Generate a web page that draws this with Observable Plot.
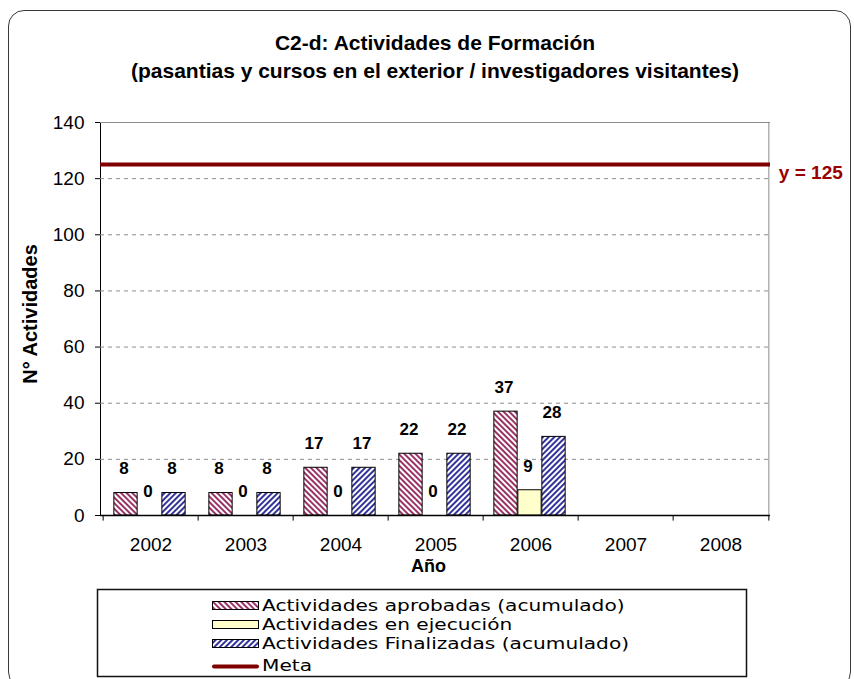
<!DOCTYPE html>
<html><head><meta charset="utf-8">
<script src="https://cdn.jsdelivr.net/npm/d3@7"></script>
<script src="https://cdn.jsdelivr.net/npm/@observablehq/plot@0.6"></script>
<style>
body{margin:0;background:#fff;}
#wrap{position:relative;width:854px;height:679px;overflow:hidden;background:#fff;font-family:"Liberation Sans",Arial,sans-serif;}
#frame{position:absolute;left:8px;top:10px;width:843px;height:678px;border:1.5px solid #3a3a3a;border-radius:16px;box-sizing:border-box;}
#title{position:absolute;left:35px;top:29px;width:800px;text-align:center;font-weight:bold;font-size:21px;line-height:28px;color:#000;}
#chart{position:absolute;left:0;top:0;}
#legend{position:absolute;left:0;top:0;}
</style></head>
<body><div id="wrap">
<div id="frame"></div>
<div id="title">C2-d: Actividades de Formación<br>(pasantias y cursos en el exterior / investigadores visitantes)</div>
<div id="chart"></div>
<svg id="legend" width="854" height="679"></svg>
</div>
<script>
// ---- data ----
const years = ["2002","2003","2004","2005","2006","2007","2008"];
const aprobadas = [8, 8, 17, 22, 37, null, null];
const ejecucion = [0, 0, 0, 0, 9, null, null];
const finalizadas = [8, 8, 17, 22, 28, null, null];
const meta = 125;
const yTicks = [0, 20, 40, 60, 80, 100, 120, 140];
const gridTicks = [20, 40, 60, 80, 100, 120];
const seriesNames = ["Actividades aprobadas (acumulado)", "Actividades en ejecución", "Actividades Finalizadas (acumulado)"];
const metaName = "Meta";
const yLabel = "N° Actividades";
const xLabel = "Año";

// ---- layout ----
const W = 854, H = 590, mL = 100, mR = 84, mT = 122, mB = 75;
const bw = (W - mL - mR) / years.length;
const c = bw / 2;
const barW = 24;
const offs = {a: -25, e: -1, f: 23};
const inset = k => ({insetLeft: c + offs[k] - barW / 2, insetRight: bw - (c + offs[k] + barW / 2)});

const rows = years.map((y, i) => ({year: y, a: aprobadas[i], e: ejecucion[i], f: finalizadas[i]}));
const rowsA = rows.filter(d => d.a != null);
const rowsE = rows.filter(d => d.e != null);
const rowsF = rows.filter(d => d.f != null);

const labelStyle = {fontWeight: "bold", fontSize: 17, dy: -24, fill: "#000"};

const chart = Plot.plot({
  width: W, height: H,
  marginLeft: mL, marginRight: mR, marginTop: mT, marginBottom: mB,
  style: {fontFamily: "'Liberation Sans', Arial, sans-serif", fontSize: "19px", background: "transparent", color: "#000", overflow: "visible"},
  x: {domain: years, padding: 0, tickSize: 0, tickPadding: 22, label: null},
  y: {domain: [0, 140], ticks: yTicks, tickSize: 5, tickPadding: 11, label: null, line: true},
  marks: [
    Plot.ruleY(gridTicks, {stroke: "#8c8c8c", strokeDasharray: "4,4", strokeWidth: 1}),
    Plot.ruleY([140], {stroke: "#8c8c8c"}),
    Plot.ruleX([years[years.length - 1]], {dx: c, stroke: "#8c8c8c"}),
    Plot.barY(rowsA, {x: "year", y: "a", fill: "url(#hatchA)", stroke: "#000", strokeWidth: 1, ...inset("a")}),
    Plot.barY(rowsE.filter(d => d.e > 0), {x: "year", y: "e", fill: "#ffffcc", stroke: "#000", strokeWidth: 1, ...inset("e")}),
    Plot.barY(rowsF, {x: "year", y: "f", fill: "url(#hatchF)", stroke: "#000", strokeWidth: 1, ...inset("f")}),
    Plot.text(rowsA, {x: "year", y: "a", text: d => String(d.a), dx: -27, ...labelStyle}),
    Plot.text(rowsE, {x: "year", y: "e", text: d => String(d.e), dx: -3, ...labelStyle}),
    Plot.text(rowsF, {x: "year", y: "f", text: d => String(d.f), dx: 21, ...labelStyle}),
    Plot.ruleY([0], {stroke: "#000", strokeWidth: 1.5}),
    Plot.ruleX(years, {x: d => d, y1: 0, y2: -2, dx: -c, stroke: "#000"}),
    Plot.ruleX([years[years.length - 1]], {y1: 0, y2: -2, dx: c, stroke: "#000"}),
    Plot.ruleY([meta], {stroke: "#800000", strokeWidth: 4}),
    Plot.text([meta], {x: () => years[years.length - 1], y: d => d, text: d => `y = ${d}`, dx: c + 10, dy: 8, textAnchor: "start", fill: "#990000", fontWeight: "bold", fontSize: 19}),
    Plot.text([yLabel], {text: d => d, frameAnchor: "left", textAnchor: "middle", lineAnchor: "middle", rotate: -90, dx: -70, dy: -5, fontWeight: "bold", fontSize: 20, fill: "#000"}),
    Plot.text([xLabel], {text: d => d, frameAnchor: "bottom", textAnchor: "middle", lineAnchor: "middle", dx: -7, dy: 51, fontWeight: "bold", fontSize: 18, fill: "#000"})
  ]
});

function addHatch(defs, id, color, angle) {
  const p = defs.append("pattern").attr("id", id).attr("patternUnits", "userSpaceOnUse")
    .attr("width", 4).attr("height", 4).attr("patternTransform", `rotate(${angle})`);
  p.append("rect").attr("width", 4).attr("height", 4).attr("fill", "#fff");
  p.append("rect").attr("width", 2).attr("height", 4).attr("fill", color);
}
const defs = d3.select(chart).insert("defs", ":first-child");
addHatch(defs, "hatchA", "#993366", -45);
addHatch(defs, "hatchF", "#333399", 45);
document.getElementById("chart").appendChild(chart);

// ---- legend ----
const lg = d3.select("#legend");
const ldefs = lg.append("defs");
addHatch(ldefs, "lhatchA", "#993366", -45);
addHatch(ldefs, "lhatchF", "#333399", 45);
lg.append("rect").attr("x", 97.5).attr("y", 589.5).attr("width", 649).attr("height", 87)
  .attr("fill", "#fff").attr("stroke", "#111").attr("stroke-width", 1.5);
const swFill = ["url(#lhatchA)", "#ffffcc", "url(#lhatchF)"];
const swY = [601.5, 620.5, 639.5];
const txtY = [611, 630, 649];
const legendText = (y, s) => lg.append("text").attr("transform", `translate(262,${y}) scale(1.26,1)`).text(s)
  .attr("font-family", "'DejaVu Sans', sans-serif").attr("font-size", 16).attr("fill", "#000");
seriesNames.forEach((name, i) => {
  lg.append("rect").attr("x", 212.5).attr("y", swY[i]).attr("width", 46).attr("height", 8)
    .attr("fill", swFill[i]).attr("stroke", "#000").attr("stroke-width", 1);
  legendText(txtY[i], name);
});
lg.append("line").attr("x1", 214).attr("x2", 257).attr("y1", 666.5).attr("y2", 666.5)
  .attr("stroke", "#800000").attr("stroke-width", 4).attr("stroke-linecap", "round");
legendText(671, metaName);
</script>
</body></html>
